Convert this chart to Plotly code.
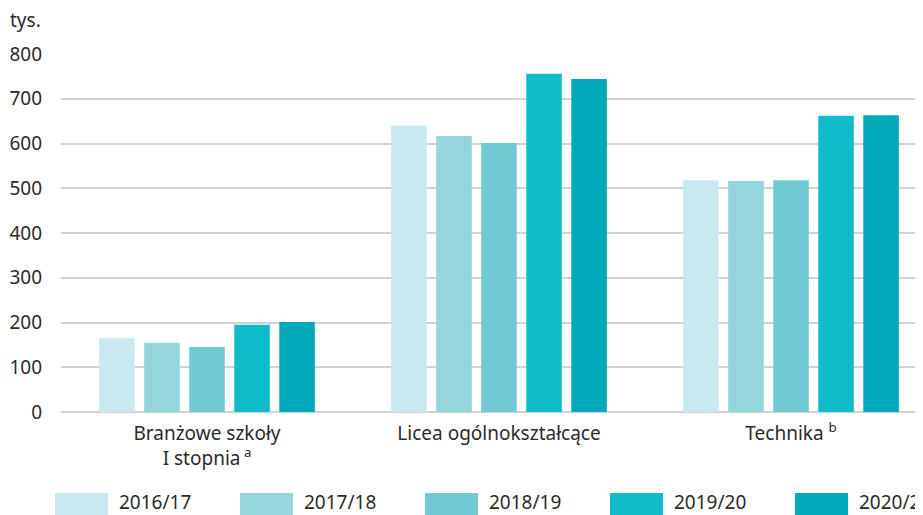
import plotly.graph_objects as go

categories = ["Branżowe szkoły<br>I stopnia<sup> a</sup>", "Licea ogólnokształcące", "Technika <sup>b</sup>"]
years = ["2016/17", "2017/18", "2018/19", "2019/20", "2020/21"]
v_2016 = [165, 640, 518]
v_2017 = [155, 617, 516]
v_2018 = [145, 601, 518]
v_2019 = [195, 756, 662]
v_2020 = [201, 744, 663]
series = [v_2016, v_2017, v_2018, v_2019, v_2020]
colors = ["#C9E8EF", "#95D5DC", "#71C9D4", "#10BCCA", "#02A9BB"]
y_ticks = [0, 100, 200, 300, 400, 500, 600, 700, 800]

# page body has an 8px margin: the figure is shrunk and coordinates shifted
OFF = 8
W, H = 923 - OFF, 515 - OFF
L, R, T, B = 61 - OFF, 0, 54 - OFF, 103
FONT = "Noto Sans"
TXT = "#2b2b2b"
FS = 19

def px_x(p):
    return (p - OFF - L) / (W - L - R)

def px_y(p):
    return (H - B - (p - OFF)) / (H - T - B)

fig = go.Figure()
for name, vals, col in zip(years, series, colors):
    fig.add_trace(go.Bar(x=categories, y=vals, name=name, marker_color=col,
                         marker_line_width=0, showlegend=False))

shapes = []
annotations = []
for i, (name, col) in enumerate(zip(years, colors)):
    x0 = 55 + i * 185
    shapes.append(dict(type="rect", xref="paper", yref="paper",
                       x0=px_x(x0), x1=px_x(x0 + 53), y0=px_y(493), y1=px_y(516),
                       fillcolor=col, line_width=0, layer="above"))
    annotations.append(dict(text=name, xref="paper", yref="paper", x=px_x(x0 + 62),
                            y=px_y(502), xanchor="left", yanchor="middle", showarrow=False,
                            font=dict(family=FONT, size=FS, color=TXT)))
annotations.append(dict(text="tys.", xref="paper", yref="paper", x=px_x(8), y=px_y(20),
                        xanchor="left", yanchor="middle", showarrow=False,
                        font=dict(family=FONT, size=FS, color=TXT)))

fig.update_layout(
    width=W, height=H,
    margin=dict(l=L, r=R, t=T, b=B, autoexpand=False),
    paper_bgcolor="white", plot_bgcolor="white",
    barmode="group", bargap=0.229, bargroupgap=0.21,
    font=dict(family=FONT, size=FS, color=TXT),
    shapes=shapes, annotations=annotations,
    xaxis=dict(range=[-0.5, 2.452], showgrid=False, showline=False, ticks="",
               ticklabelstandoff=8, automargin=False,
               tickfont=dict(family=FONT, size=FS, color=TXT), fixedrange=True),
    yaxis=dict(range=[0, 800], tickvals=y_ticks, showgrid=True, gridcolor="#d2d2d2",
               gridwidth=1.5, zeroline=True, zerolinecolor="#d2d2d2", zerolinewidth=2,
               showline=False, ticks="", ticklabelstandoff=18, automargin=False,
               tickfont=dict(family=FONT, size=FS, color=TXT)),
)

fig.write_html("out.html")
